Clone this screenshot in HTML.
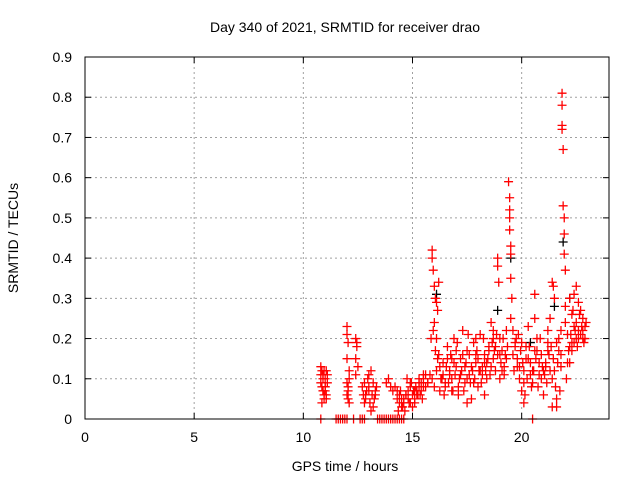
<!DOCTYPE html>
<html><head><meta charset="utf-8"><style>
html,body{margin:0;padding:0;background:#fff}
svg{display:block;font-family:"Liberation Sans",sans-serif}
</style></head><body>
<svg id="chart" width="640" height="480">
<text x="345" y="32" font-size="14" text-anchor="middle">Day 340 of 2021, SRMTID for receiver drao</text>
<text x="345" y="471" font-size="14" text-anchor="middle">GPS time / hours</text>
<text transform="translate(18,238) rotate(-90)" font-size="14" text-anchor="middle">SRMTID / TECUs</text>
<g id="grid"></g>
<g id="ticks"></g>
<g id="marks"></g>
<rect x="85" y="57" width="524" height="362" fill="none" stroke="#000" stroke-width="1"/>
</svg>
<script>
const xTicks=[0,5,10,15,20];
const yTicks=[0,0.1,0.2,0.3,0.4,0.5,0.6,0.7,0.8,0.9];
const yTickLabels=["0","0.1","0.2","0.3","0.4","0.5","0.6","0.7","0.8","0.9"];
const redHours=[10.8,10.85,10.9,10.95,11.0,11.05,11.1,10.8,10.85,10.9,10.95,11.0,11.05,11.1,10.85,10.95,11.0,10.9,11.05,10.8,
12.0,12.0,12.05,12.0,12.1,12.05,12.0,12.1,12.05,12.4,12.45,12.4,12.5,12.45,12.4,12.0,12.05,12.1,
12.7,12.8,12.9,12.75,12.85,12.95,13.0,13.1,13.2,13.3,13.05,13.15,13.25,13.35,13.0,13.2,13.1,12.8,
13.8,13.9,14.0,14.1,14.2,14.3,14.4,14.5,14.6,14.7,14.8,14.9,15.0,15.1,15.2,15.3,15.4,15.5,14.3,14.4,14.5,14.6,14.7,14.8,14.9,15.0,15.1,15.2,15.3,15.4,14.35,14.55,14.75,14.95,15.15,15.35,14.45,14.65,14.85,15.05,15.25,15.45,15.5,
15.9,15.9,15.95,16.0,16.05,16.1,16.15,16.2,16.0,16.1,15.85,15.95,16.05,16.15,16.25,15.9,16.0,16.1,16.2,15.8,15.7,15.6,16.3,16.25,
16.4,16.5,16.6,16.7,16.8,16.9,17.0,17.1,17.2,17.3,17.4,17.5,17.6,17.7,17.8,17.9,18.0,18.1,18.2,18.3,18.4,18.5,18.6,18.7,18.8,18.9,18.9,18.95,19.0,19.1,19.2,19.3,19.4,19.45,19.45,19.45,19.45,19.5,19.5,19.5,19.55,19.5,19.6,19.7,19.8,19.9,20.0,20.1,20.2,20.3,20.4,20.5,20.6,20.7,20.8,20.9,21.0,21.1,21.2,21.3,21.4,21.45,21.5,21.5,21.6,21.7,21.8,21.85,21.85,21.85,21.85,21.9,21.9,21.95,21.95,21.95,22.0,22.0,22.1,22.2,22.3,22.4,22.5,22.6,22.7,22.8,22.9,22.5,22.4,22.3,22.2,22.6,22.8,
16.35,16.45,16.55,16.65,16.75,16.85,16.95,17.05,17.15,17.25,17.35,17.45,17.55,17.65,17.75,17.85,17.95,18.05,18.15,18.25,18.35,18.45,18.55,18.65,18.75,18.85,19.05,19.15,19.25,19.35,19.6,19.65,19.75,19.85,19.95,20.05,20.15,20.25,20.35,20.45,20.55,20.65,20.75,20.85,20.95,21.05,21.15,21.25,21.35,21.45,21.55,21.65,21.75,21.8,22.05,22.15,22.25,22.35,22.45,22.55,22.65,22.75,22.85,22.95,21.4,21.6,20.1,17.5,18.3,19.0,16.8,17.9,18.7,21.2,20.6,
16.4,16.6,16.8,17.0,17.2,17.4,17.6,17.8,18.0,18.2,18.4,18.6,18.8,19.0,19.2,19.7,19.9,20.1,20.3,20.5,20.7,20.9,21.1,21.3,21.6,21.8,22.1,22.3,22.5,22.7,22.9,
16.5,16.7,16.9,17.1,17.3,17.5,17.7,17.9,18.1,18.3,18.5,18.7,18.9,19.1,19.3,19.8,20.0,20.2,20.4,20.6,20.8,21.0,21.2,21.4,21.7,22.0,22.2,22.4,22.6,22.8,
15.3,15.5,15.6,15.7,14.9,15.1,13.3,13.0,12.85,11.0,10.9,
10.8,11.5,11.6,11.7,11.8,11.9,12.0,12.3,12.6,12.7,12.8,13.4,13.5,13.6,13.7,13.8,13.9,14.0,14.1,14.2,14.3,14.4,14.5,14.6,20.5];
const redValues=[.13,.12,.11,.12,.1,.12,.11,.09,.08,.07,.06,.08,.05,.09,.04,.05,.07,.1,.06,.11,
.23,.21,.19,.15,.12,.08,.06,.1,.05,.2,.18,.15,.13,.19,.11,.09,.07,.04,
.08,.09,.07,.06,.05,.1,.08,.12,.09,.07,.04,.06,.05,.08,.11,.03,.02,.04,
.09,.1,.08,.07,.08,.07,.06,.05,.04,.06,.05,.04,.06,.05,.07,.08,.09,.1,.05,.04,.03,.05,.06,.07,.08,.03,.04,.06,.09,.07,.02,.03,.1,.09,.08,.06,.07,.02,.04,.07,.06,.05,.11,
.42,.4,.37,.33,.3,.29,.27,.34,.24,.2,.2,.22,.17,.15,.13,.1,.08,.12,.16,.11,.09,.08,.1,.07,
.14,.08,.18,.12,.1,.2,.13,.06,.15,.22,.09,.17,.11,.05,.19,.14,.08,.21,.13,.16,.1,.18,.24,.15,.12,.38,.4,.34,.2,.17,.13,.22,.59,.55,.52,.5,.47,.43,.41,.35,.3,.25,.22,.19,.15,.1,.07,.12,.18,.23,.14,.09,.31,.2,.11,.16,.06,.13,.19,.25,.34,.33,.3,.12,.05,.17,.22,.81,.78,.73,.72,.67,.53,.5,.46,.41,.37,.28,.21,.3,.26,.19,.24,.22,.27,.2,.23,.33,.31,.17,.14,.29,.25,
.1,.06,.13,.09,.16,.07,.11,.19,.1,.12,.07,.14,.21,.09,.12,.1,.17,.12,.09,.2,.12,.15,.11,.19,.17,.21,.14,.2,.16,.18,.16,.12,.2,.21,.17,.14,.06,.1,.18,.08,.12,.15,.08,.2,.13,.11,.09,.16,.18,.15,.08,.14,.07,.13,.1,.17,.21,.27,.22,.18,.26,.23,.19,.24,.03,.03,.04,.04,.06,.1,.15,.2,.22,.22,.25,
.11,.15,.07,.17,.11,.13,.16,.09,.15,.11,.14,.13,.18,.16,.11,.18,.13,.09,.15,.12,.17,.1,.14,.12,.19,.16,.14,.19,.2,.21,.2,
.09,.11,.14,.08,.16,.1,.13,.16,.12,.14,.17,.2,.16,.12,.15,.13,.19,.15,.11,.17,.14,.12,.17,.1,.2,.24,.18,.23,.2,.22,
.1,.08,.11,.09,.09,.07,.06,.07,.06,.08,.07,
0,0,0,0,0,0,0,0,0,0,0,0,0,0,0,0,0,0,0,0,0,0,0,0,0];
const blackHours=[16.1,19.5,21.9,22.2,18.9,20.4,21.5];
const blackValues=[.31,.4,.44,.3,.27,.19,.28];
const X0=85,X1=609,Y0=419,Y1=57,XMAX=24,YMAX=0.9;
function xs(h){return X0+h/XMAX*(X1-X0);}
function ys(v){return Y0-v/YMAX*(Y0-Y1);}
const NS="http://www.w3.org/2000/svg";
const grid=document.getElementById('grid'),ticks=document.getElementById('ticks'),marks=document.getElementById('marks');
function mk(tag,attrs,parent){const e=document.createElementNS(NS,tag);for(const k in attrs)e.setAttribute(k,attrs[k]);parent.appendChild(e);return e;}
xTicks.forEach((t,i)=>{const x=xs(t);
 if(t>0){const g=mk('line',{x1:x,x2:x,y1:Y0,y2:Y1,stroke:'#a0a0a0','stroke-dasharray':'2,3'},grid);
 
 }
 const tk=mk('line',{x1:x,x2:x,y1:Y0,y2:Y0-6,stroke:'#000'},ticks);
 
 
 const tk2=mk('line',{x1:x,x2:x,y1:Y1,y2:Y1+6,stroke:'#000'},ticks);
 
 
 const lb=mk('text',{x:x,y:442,'font-size':14,'text-anchor':'middle'},ticks);lb.textContent=String(t);
 
 });
yTicks.forEach((t,i)=>{const y=ys(t);
 if(t>0&&t<YMAX){const g=mk('line',{x1:X0,x2:X1,y1:y,y2:y,stroke:'#a0a0a0','stroke-dasharray':'2,3'},grid);
 
 }
 const tk=mk('line',{x1:X0,x2:X0+6,y1:y,y2:y,stroke:'#000'},ticks);
 
 
 const tk2=mk('line',{x1:X1,x2:X1-6,y1:y,y2:y,stroke:'#000'},ticks);
 
 
 const lb=mk('text',{x:72,y:y+5,'font-size':14,'text-anchor':'end'},ticks);lb.textContent=yTickLabels[i];
 
 });
function plus(h,v,color,name){const x=xs(h),y=ys(v);
 const p=mk('path',{d:`M${x-4.5},${y}H${x+4.5}M${x},${y-4.5}V${y+4.5}`,stroke:color,'stroke-width':1.3,fill:'none'},marks);
 
 }
blackHours.forEach((h,i)=>plus(h,blackValues[i],'#000','black-point'));
redHours.forEach((h,i)=>plus(h,redValues[i],'#f00','srmtid-point'));
</script>
</body></html>
